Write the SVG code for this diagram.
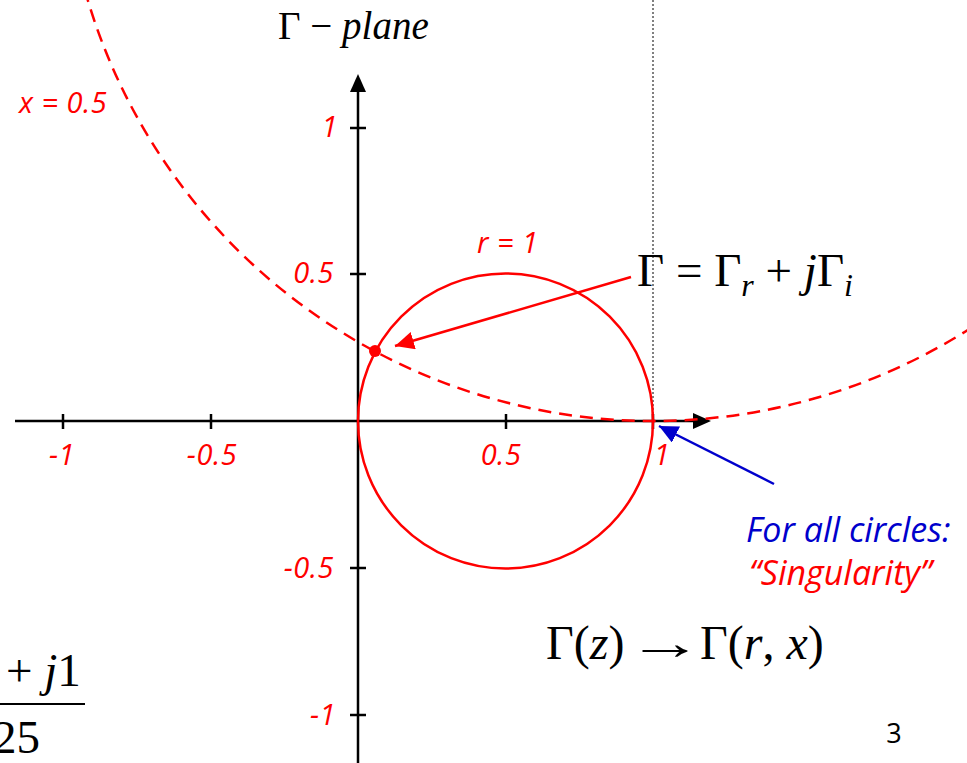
<svg xmlns="http://www.w3.org/2000/svg" width="967" height="763" viewBox="0 0 967 763">
<defs>
<style>
.lbl{font-family:"Open Sans","Noto Sans",sans-serif;font-style:italic;fill:#ff0000;font-size:29px;letter-spacing:0.5px}
.math{font-family:"Liberation Serif","Times New Roman",serif;fill:#000}
.ax{stroke:#000;stroke-width:2.5;fill:none}
.red{stroke:#ff0000;stroke-width:2.5;fill:none}
</style>
<marker id="ahR" viewBox="0 0 10 10" refX="10" refY="5" markerWidth="19" markerHeight="18" orient="auto" markerUnits="userSpaceOnUse" preserveAspectRatio="none">
<path d="M0,0 L10,5 L0,10 z" fill="#ff0000"/>
</marker>
<marker id="ahB" viewBox="0 0 10 10" refX="10" refY="5" markerWidth="19" markerHeight="18" orient="auto" markerUnits="userSpaceOnUse" preserveAspectRatio="none">
<path d="M0,0 L10,5 L0,10 z" fill="#0000cc"/>
</marker>
</defs>
<rect width="967" height="763" fill="#fff"/>

<g id="axes">
<line x1="653" y1="0" x2="653" y2="421" stroke="#000" stroke-width="1" stroke-dasharray="2,2"/>
<line class="ax" x1="15" y1="421" x2="694" y2="421"/>
<path d="M693,413 L711,421 L693,429 z" fill="#000"/>
<line class="ax" x1="358" y1="763" x2="358" y2="91"/>
<path d="M350,92 L358,74 L366,92 z" fill="#000"/>
<g class="ax">
<line x1="63" y1="414" x2="63" y2="429"/>
<line x1="211" y1="414" x2="211" y2="429"/>
<line x1="506" y1="414" x2="506" y2="429"/>
<line x1="653" y1="414" x2="653" y2="429"/>
<line x1="350" y1="128" x2="366" y2="128"/>
<line x1="350" y1="274" x2="366" y2="274"/>
<line x1="350" y1="568" x2="366" y2="568"/>
<line x1="350" y1="715" x2="366" y2="715"/>
</g>
</g>

<g id="tick-labels">
<text class="lbl" x="62" y="465" text-anchor="middle">-1</text>
<text class="lbl" x="212" y="465" text-anchor="middle">-0.5</text>
<text class="lbl" x="501" y="465" text-anchor="middle">0.5</text>
<text class="lbl" x="662" y="465" text-anchor="middle">1</text>
<text class="lbl" x="338" y="137" text-anchor="end">1</text>
<text class="lbl" x="334" y="283" text-anchor="end">0.5</text>
<text class="lbl" x="334" y="578" text-anchor="end">-0.5</text>
<text class="lbl" x="336" y="725" text-anchor="end">-1</text>
</g>

<g id="x-circle">
<circle class="red" cx="653" cy="-169" r="590" stroke-dasharray="13,8"/>
<text class="lbl" x="19" y="113">x = 0.5</text>
</g>

<g id="r-circle">
<circle class="red" cx="505.5" cy="421" r="147.5"/>
<text class="lbl" x="477" y="253">r = 1</text>
</g>

<g id="point">
<circle cx="375" cy="351" r="6" fill="#ff0000"/>
</g>

<g id="connectors">
<line x1="631" y1="277" x2="395" y2="346" stroke="#ff0000" stroke-width="2.5" marker-end="url(#ahR)"/>
<line x1="774" y1="484" x2="659" y2="426" stroke="#0000cc" stroke-width="2.5" marker-end="url(#ahB)"/>
</g>

<g id="title">
<text class="math" x="278" y="39" font-size="39">Γ − <tspan font-style="italic">plane</tspan></text>
</g>

<g id="gamma-def">
<text class="math" x="637" y="286" font-size="47">Γ = Γ<tspan font-style="italic" font-size="32" dy="10">r</tspan><tspan dy="-10"> + </tspan><tspan font-style="italic">j</tspan>Γ<tspan font-style="italic" font-size="32" dy="10">i</tspan></text>
</g>

<g id="singularity">
<text x="746" y="542" font-family="Open Sans, Noto Sans, sans-serif" font-style="italic" font-size="34" fill="#0000cc">For all circles:</text>
<text x="749" y="585" font-family="Open Sans, Noto Sans, sans-serif" font-style="italic" font-size="34" fill="#ff0000">“Singularity”</text>
</g>

<g id="mapping">
<text class="math" x="546" y="659" font-size="48">Γ(<tspan font-style="italic">z</tspan>)</text>
<text class="math" x="627" y="659" font-size="48" textLength="76" lengthAdjust="spacingAndGlyphs">→</text>
<text class="math" x="700" y="659" font-size="48">Γ(<tspan font-style="italic">r</tspan>, <tspan font-style="italic">x</tspan>)</text>
</g>

<g id="fraction">
<text class="math" x="6" y="686" font-size="47">+ <tspan font-style="italic">j</tspan>1</text>
<line x1="0" y1="704" x2="85" y2="704" stroke="#000" stroke-width="2"/>
<text class="math" x="-7" y="753" font-size="47">25</text>
</g>

<g id="page">
<text x="894" y="743" font-family="Open Sans, Noto Sans, sans-serif" font-size="27" fill="#000" text-anchor="middle">3</text>
</g>
</svg>
